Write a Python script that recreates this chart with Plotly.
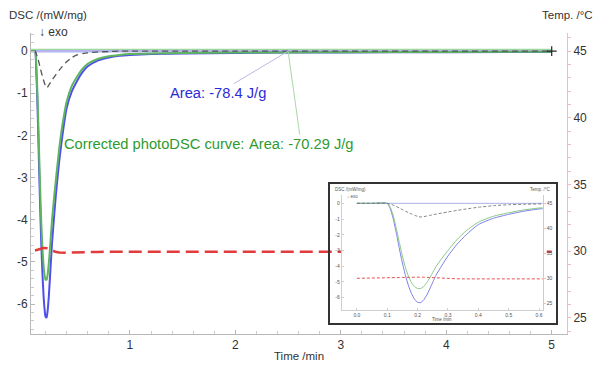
import plotly.graph_objects as go

# ---------------- data ----------------
time_min = [0.0, 0.05, 0.10, 0.11, 0.12, 0.13, 0.14, 0.15, 0.16, 0.17, 0.18, 0.19,
            0.20, 0.21, 0.22, 0.23, 0.24, 0.26, 0.28, 0.30, 0.33, 0.36, 0.40, 0.45,
            0.50, 0.55, 0.60, 0.70, 0.80, 0.90, 1.0, 1.2, 1.5, 2.0, 2.5, 3.0, 4.0, 5.0]

dsc_raw = [0, 0, 0, -0.35, -1.0, -1.9, -2.9, -3.8, -4.6, -5.25, -5.75, -6.1,
           -6.3, -6.32, -6.15, -5.85, -5.45, -4.6, -3.95, -3.35, -2.6, -2.0, -1.35, -0.95,
           -0.7, -0.5, -0.36, -0.22, -0.15, -0.11, -0.09, -0.07, -0.055, -0.045, -0.035, -0.03, -0.025, -0.02]

dsc_corrected = [0, 0, 0, -0.25, -0.8, -1.6, -2.5, -3.35, -4.1, -4.65, -5.05, -5.3,
                 -5.42, -5.42, -5.3, -5.05, -4.75, -4.05, -3.5, -3.0, -2.3, -1.75, -1.2, -0.82,
                 -0.6, -0.42, -0.3, -0.18, -0.12, -0.09, -0.07, -0.055, -0.045, -0.035, -0.03, -0.025, -0.02, -0.015]

dsc_light = [0, 0, 0, -0.05, -0.12, -0.2, -0.3, -0.4, -0.5, -0.59, -0.68, -0.76,
             -0.83, -0.87, -0.85, -0.81, -0.77, -0.69, -0.62, -0.55, -0.45, -0.36, -0.25, -0.15,
             -0.09, -0.06, -0.04, -0.02, -0.01, 0, 0, 0, 0, 0, 0, 0, 0, 0]

temperature = [30.0, 30.0, 30.05, 30.08, 30.1, 30.12, 30.15, 30.17, 30.2, 30.22, 30.24, 30.25,
               30.25, 30.24, 30.22, 30.18, 30.14, 30.06, 30.0, 29.94, 29.9, 29.88, 29.88, 29.9,
               29.92, 29.93, 29.94, 29.95, 29.96, 29.96, 29.96, 29.96, 29.96, 29.96, 29.96, 29.96, 29.96, 29.96]

baseline_time = [0.0, 5.0]
baseline_raw = [0.0, 0.0]
baseline_corrected = [0.035, 0.035]

area_point_time = 2.5
area_raw_label = "Area: -78.4 J/g"
area_corr_label = "Area: -70.29 J/g"
corr_caption = "Corrected photoDSC curve:"

dsc_tickvals = [0, -1, -2, -3, -4, -5, -6]
dsc_ticktext = ["0", "-1", "-2", "-3", "-4", "-5", "-6"]
temp_tickvals = [25, 30, 35, 40, 45]
temp_ticktext = ["25", "30", "35", "40", "45"]
time_tickvals = [1, 2, 3, 4, 5]
time_ticktext = ["1", "2", "3", "4", "5"]
inset_time_tickvals = [0.0, 0.1, 0.2, 0.3, 0.4, 0.5, 0.6]
inset_time_ticktext = ["0.0", "0.1", "0.2", "0.3", "0.4", "0.5", "0.6"]

# ---------------- styling ----------------
W, H = 600, 369
FONT = "Liberation Sans, Arial, sans-serif"
BLUE = "#4f4fea"
GREEN = "#5fb55f"
BLUE_BASE = "#b4b4ee"
GREEN_BASE = "#9fd89f"
GRAY = "#555555"
RED = "#e23b3b"
AX = "#b8b8b8"
PINK = "#f2bcbc"
TXT = "#333333"


def px(x):
    return x / W


def py(y):
    return 1 - y / H


fig = go.Figure()

# ---- main chart traces ----
fig.add_trace(go.Scatter(x=baseline_time, y=baseline_corrected, mode="lines",
                         line=dict(color=GREEN_BASE, width=2), xaxis="x", yaxis="y"))
fig.add_trace(go.Scatter(x=baseline_time, y=baseline_raw, mode="lines",
                         line=dict(color=BLUE_BASE, width=2.5), xaxis="x", yaxis="y"))
fig.add_trace(go.Scatter(x=time_min, y=dsc_raw, mode="lines",
                         line=dict(color=BLUE, width=2, shape="spline", smoothing=0.5),
                         xaxis="x", yaxis="y"))
fig.add_trace(go.Scatter(x=time_min, y=dsc_corrected, mode="lines",
                         line=dict(color=GREEN, width=2, shape="spline", smoothing=0.5),
                         xaxis="x", yaxis="y"))
fig.add_trace(go.Scatter(x=time_min, y=dsc_light, mode="lines",
                         line=dict(color=GRAY, width=1.3, dash="6px,4px", shape="spline", smoothing=0.5),
                         xaxis="x", yaxis="y"))
fig.add_trace(go.Scatter(x=baseline_time[-1:], y=baseline_raw[-1:], mode="markers",
                         marker=dict(symbol="cross-thin", size=7, line=dict(color="#222", width=1.2)),
                         xaxis="x", yaxis="y"))
fig.add_trace(go.Scatter(x=time_min[2:], y=temperature[2:], mode="lines",
                         line=dict(color=RED, width=2.5, dash="13px,6px"),
                         xaxis="x", yaxis="y2"))

# ---- inset traces ----
fig.add_trace(go.Scatter(x=baseline_time, y=baseline_raw, mode="lines",
                         line=dict(color="#a9b4e8", width=1), xaxis="x3", yaxis="y4"))
fig.add_trace(go.Scatter(x=time_min, y=dsc_raw, mode="lines",
                         line=dict(color="#7c7cea", width=1, shape="spline", smoothing=0.5),
                         xaxis="x3", yaxis="y4"))
fig.add_trace(go.Scatter(x=time_min, y=dsc_corrected, mode="lines",
                         line=dict(color="#86c886", width=1, shape="spline", smoothing=0.5),
                         xaxis="x3", yaxis="y4"))
fig.add_trace(go.Scatter(x=time_min, y=dsc_light, mode="lines",
                         line=dict(color="#666", width=0.8, dash="3px,2px", shape="spline", smoothing=0.5),
                         xaxis="x3", yaxis="y4"))
fig.add_trace(go.Scatter(x=time_min, y=temperature, mode="lines",
                         line=dict(color="#e85050", width=1, dash="3px,2px"),
                         xaxis="x3", yaxis="y5"))

tickfont = dict(family=FONT, size=12, color=TXT)
small = dict(family=FONT, size=5, color="#555")

fig.update_layout(
    width=W, height=H, autosize=False,
    margin=dict(l=0, r=0, t=0, b=0),
    paper_bgcolor="white", plot_bgcolor="white",
    showlegend=False,
    font=dict(family=FONT, color=TXT),
    xaxis=dict(domain=[px(31), px(567)], range=[0.062, 5.145], anchor="y",
               tickvals=time_tickvals, ticktext=time_ticktext, tickfont=tickfont,
               showline=True, linecolor=AX, linewidth=1, showgrid=False, zeroline=False,
               ticks="inside", ticklen=4, tickcolor=AX,
               minor=dict(dtick=0.2, tick0=0, ticks="inside", ticklen=3, tickcolor="#cccccc")),
    yaxis=dict(domain=[py(334), py(33)], range=[-6.71, 0.43], anchor="x",
               tickvals=dsc_tickvals, ticktext=dsc_ticktext, tickfont=tickfont,
               showline=True, linecolor=AX, linewidth=1, showgrid=False, zeroline=False,
               ticks="inside", ticklen=4, tickcolor=AX,
               minor=dict(dtick=0.2, tick0=0, ticks="inside", ticklen=3, tickcolor="#cccccc")),
    yaxis2=dict(overlaying="y", side="right", anchor="x", range=[23.8, 46.35],
                tickvals=temp_tickvals, ticktext=temp_ticktext, tickfont=tickfont,
                showline=True, linecolor=PINK, linewidth=1, showgrid=False, zeroline=False,
                ticks="outside", ticklen=3, tickcolor=PINK,
                minor=dict(dtick=1, tick0=0, ticks="outside", ticklen=3, tickcolor=PINK)),
    # white box that holds the inset
    xaxis2=dict(domain=[px(329), px(557)], range=[0, 1], anchor="y3", visible=False),
    yaxis3=dict(domain=[py(324), py(183)], range=[0, 1], anchor="x2", visible=False),
    # inset axes
    xaxis3=dict(domain=[px(341.7), px(542.7)], range=[-0.05, 0.612], anchor="y4",
                tickvals=inset_time_tickvals, ticktext=inset_time_ticktext, tickfont=small,
                showline=True, linecolor="#cfcfcf", linewidth=1, showgrid=False, zeroline=False,
                ticks="inside", ticklen=2, tickcolor="#cfcfcf"),
    yaxis4=dict(domain=[py(310), py(195)], range=[-6.79, 0.53], anchor="x3",
                tickvals=dsc_tickvals, ticktext=dsc_ticktext, tickfont=small,
                showline=True, linecolor="#cfcfcf", linewidth=1, showgrid=False, zeroline=False,
                ticks="inside", ticklen=2, tickcolor="#cfcfcf"),
    yaxis5=dict(overlaying="y4", side="right", anchor="x3", range=[23.66, 46.66],
                tickvals=temp_tickvals, ticktext=temp_ticktext, tickfont=small,
                showline=True, linecolor=PINK, linewidth=1, showgrid=False, zeroline=False,
                ticks="outside", ticklen=2, tickcolor=PINK),
)

# inset frame
fig.add_shape(type="rect", xref="paper", yref="paper",
              x0=px(329), x1=px(557), y0=py(324), y1=py(183),
              line=dict(color="#333333", width=2), fillcolor="rgba(0,0,0,0)", layer="above")

ann = []
# main axis titles
ann.append(dict(text="DSC /(mW/mg)", x=px(7), y=py(15), xanchor="left", yanchor="middle",
                font=dict(size=11.5, color=TXT)))
ann.append(dict(text="Temp. /°C", x=px(595), y=py(15), xanchor="right", yanchor="middle",
                font=dict(size=11.5, color=TXT)))
ann.append(dict(text="↓ exo", x=px(37), y=py(32), xanchor="left", yanchor="middle",
                font=dict(size=12, color=TXT)))
ann.append(dict(text="Time /min", x=px(299), y=py(356), xanchor="center", yanchor="middle",
                font=dict(size=11.5, color=TXT)))
for a in ann:
    a.update(xref="paper", yref="paper", showarrow=False)

# area labels with pointer lines
ann.append(dict(text=area_raw_label, x=area_point_time, y=baseline_raw[0], xref="x", yref="y",
                showarrow=True, arrowhead=0, arrowwidth=1, arrowcolor="#b9b9e6",
                ax=-70, ay=42, font=dict(size=14.7, color="#2b2bd6")))
ann.append(dict(text=area_corr_label, x=area_point_time, y=baseline_raw[0], xref="x", yref="y",
                showarrow=True, arrowhead=0, arrowwidth=1, arrowcolor="#a9d8a9",
                ax=13, ay=93, font=dict(size=14.7, color="#2f9a2f")))
ann.append(dict(text=corr_caption, x=px(245.5), y=py(144), xref="paper", yref="paper",
                xanchor="right", yanchor="middle", showarrow=False,
                font=dict(size=14.7, color="#2f9a2f")))

# inset titles
inset_ann = [
    dict(text="DSC /(mW/mg)", x=px(333), y=py(189), xanchor="left"),
    dict(text="Temp. /°C", x=px(553), y=py(189), xanchor="right"),
    dict(text="↓ exo", x=px(345), y=py(196), xanchor="left"),
    dict(text="Time /min", x=px(442), y=py(319), xanchor="center"),
]
for a in inset_ann:
    a.update(xref="paper", yref="paper", yanchor="middle", showarrow=False,
             font=dict(size=4.5, color="#555"))
    ann.append(a)

fig.update_layout(annotations=ann)

fig.write_html("out.html", config={"displayModeBar": False},
               post_script="document.body.style.margin='0';")
